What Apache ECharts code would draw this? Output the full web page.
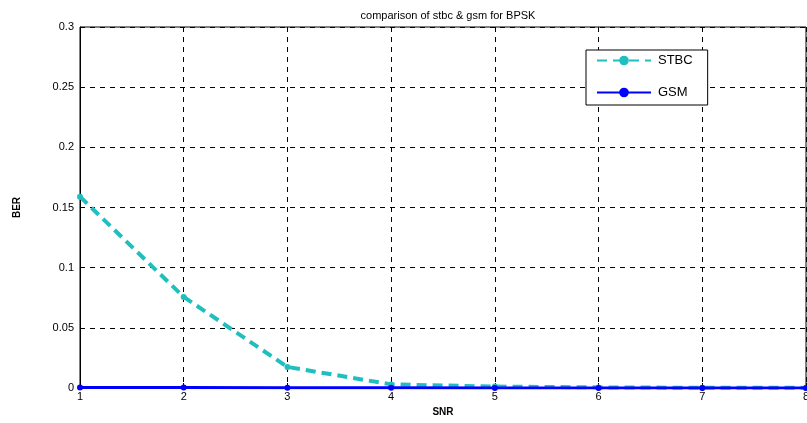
<!DOCTYPE html>
<html>
<head>
<meta charset="utf-8">
<script src="https://cdn.jsdelivr.net/npm/echarts@6/dist/echarts.min.js"></script>
<style>
  html, body { margin: 0; padding: 0; background: #fff; }
  #chart { width: 807px; height: 423px; }
</style>
</head>
<body>
<div id="chart"></div>
<script>
// SNR values on the x axis
const snr = [1, 2, 3, 4, 5, 6, 7, 8];
// bit error rates
const stbcBer = [0.159, 0.0757, 0.0175, 0.003, 0.0012, 0.0005, 0.0002, 0.0001];
const gsmBer = [0.0005, 0.0004, 0.0003, 0.0002, 0.0001, 0.0001, 0.0001, 0.0001];

const font = 'Liberation Sans';

const chart = echarts.init(document.getElementById('chart'));
const option = {
  animation: false,
  backgroundColor: '#fff',
  title: {
    text: 'comparison of stbc & gsm for BPSK',
    left: 443,
    textAlign: 'center',
    top: 5,
    textStyle: { fontFamily: font, fontSize: 11, fontWeight: 'normal', color: '#000' }
  },
  legend: {
    orient: 'vertical',
    left: 586,
    top: 50,
    padding: [4, 15, 6, 10],
    itemGap: 19,
    itemWidth: 54,
    itemHeight: 12,
    borderColor: '#000',
    borderWidth: 1,
    backgroundColor: '#fff',
    textStyle: { fontFamily: font, fontSize: 13, color: '#000', padding: [0, 0, 0, 2] },
    data: ['STBC', 'GSM']
  },
  grid: {
    left: 80,
    right: 1,
    top: 27,
    bottom: 35,
    outerBoundsMode: 'none',
    show: true,
    borderColor: '#000',
    borderWidth: 1
  },
  xAxis: {
    type: 'value',
    min: 1,
    max: 8,
    interval: 1,
    name: 'SNR',
    nameLocation: 'middle',
    nameGap: 13,
    nameTextStyle: { fontFamily: font, fontSize: 10, fontWeight: 'bold', color: '#000' },
    axisLine: { lineStyle: { color: '#000' } },
    axisTick: { inside: true, length: 5, lineStyle: { color: '#000' } },
    axisLabel: { fontFamily: font, fontSize: 11, color: '#000', margin: 3 },
    splitLine: { show: true, lineStyle: { color: '#000', type: [5, 5], width: 1 } }
  },
  yAxis: {
    type: 'value',
    min: 0,
    max: 0.3,
    interval: 0.05,
    name: 'BER',
    nameLocation: 'middle',
    nameGap: 58,
    nameTextStyle: { fontFamily: font, fontSize: 10, fontWeight: 'bold', color: '#000' },
    axisLine: { show: true, lineStyle: { color: '#000' } },
    axisTick: { show: true, inside: true, length: 5, lineStyle: { color: '#000' } },
    axisLabel: {
      fontFamily: font, fontSize: 11, color: '#000', margin: 6,
      formatter: v => String(parseFloat(v.toFixed(2)))
    },
    splitLine: { show: true, lineStyle: { color: '#000', type: [5, 5], width: 1 } }
  },
  series: [
    {
      name: 'STBC',
      type: 'line',
      data: snr.map((x, i) => [x, stbcBer[i]]),
      color: '#1fbfbf',
      lineStyle: { width: 4, type: [10, 6], color: '#1fbfbf' },
      symbol: 'circle',
      symbolSize: 6,
      itemStyle: { color: '#1fbfbf' },
      z: 3
    },
    {
      name: 'GSM',
      type: 'line',
      data: snr.map((x, i) => [x, gsmBer[i]]),
      color: '#0000ff',
      lineStyle: { width: 3, color: '#0000ff' },
      symbol: 'circle',
      symbolSize: 6,
      itemStyle: { color: '#0000ff' },
      z: 4
    }
  ]
};
chart.setOption(option);
</script>
</body>
</html>
